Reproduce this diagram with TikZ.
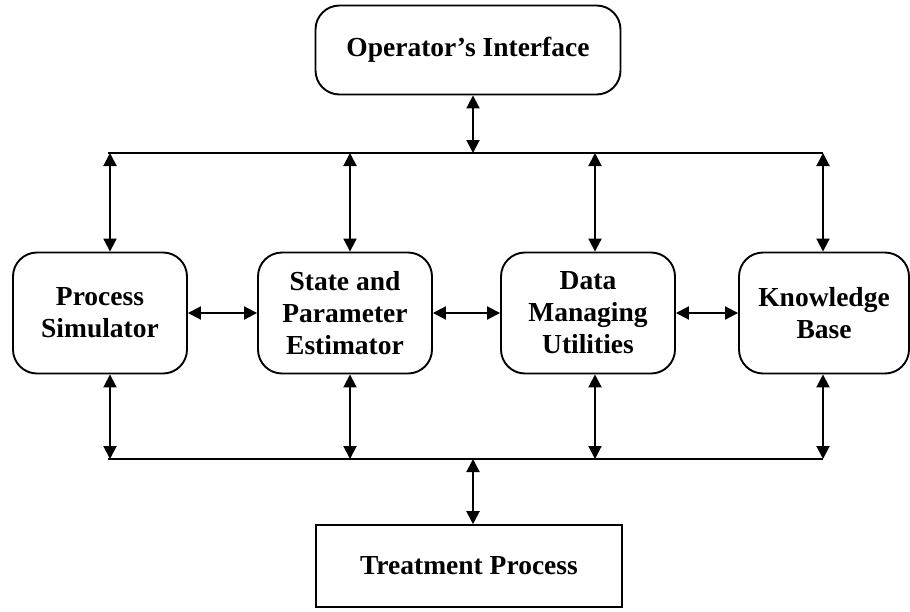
\documentclass[tikz,border=0pt]{standalone}
\usepackage{fontspec}
\setmainfont{Liberation Serif}
\usetikzlibrary{arrows.meta,positioning}

\begin{document}
\begin{tikzpicture}[x=1pt,y=-1pt,
  blk/.style={draw,line width=1.9pt,rounded corners=24pt,align=center,
    font=\fontsize{27.5}{32}\selectfont\bfseries,minimum width=174pt,
    minimum height=121pt,inner sep=0pt},
  link/.style={line width=2pt,{Triangle[length=13pt,width=13pt]}-{Triangle[length=13pt,width=13pt]}}]
\useasboundingbox (0,0) rectangle (910,611);
\node[blk,minimum width=305pt,minimum height=89pt] (oi) at (468,50) {Operator's Interface};
\node[blk] (ps) at (100,313) {Process\\Simulator};
\node[blk] (spe) at (345,313) {State and\\Parameter\\Estimator};
\node[blk] (dmu) at (588,313) {Data\\Managing\\Utilities};
\node[blk,minimum width=170pt] (kb) at (824,313) {Knowledge\\Base};
\node[blk,rounded corners=0pt,line width=1.6pt,minimum width=306pt,minimum height=82pt] (tp) at (469,566) {Treatment Process};
\coordinate (tl) at (108,153);
\coordinate (tr) at (823,153);
\coordinate (bl) at (108,459);
\coordinate (br) at (823,459);
\draw[line width=2pt] (tl) -- (tr);
\draw[line width=2pt] (bl) -- (br);
\draw[link] (oi.south -| 473,0) -- (473,153);
\draw[link] (473,459) -- (tp.north -| 473,0);
\foreach \n/\x in {ps/110,spe/350,dmu/595,kb/823}{
  \draw[link] (\x,153) -- (\n.north -| \x,0);
  \draw[link] (\n.south -| \x,0) -- (\x,459);
}
\draw[link] (ps) -- (spe);
\draw[link] (spe) -- (dmu);
\draw[link] (dmu) -- (kb);
\end{tikzpicture}
\end{document}
